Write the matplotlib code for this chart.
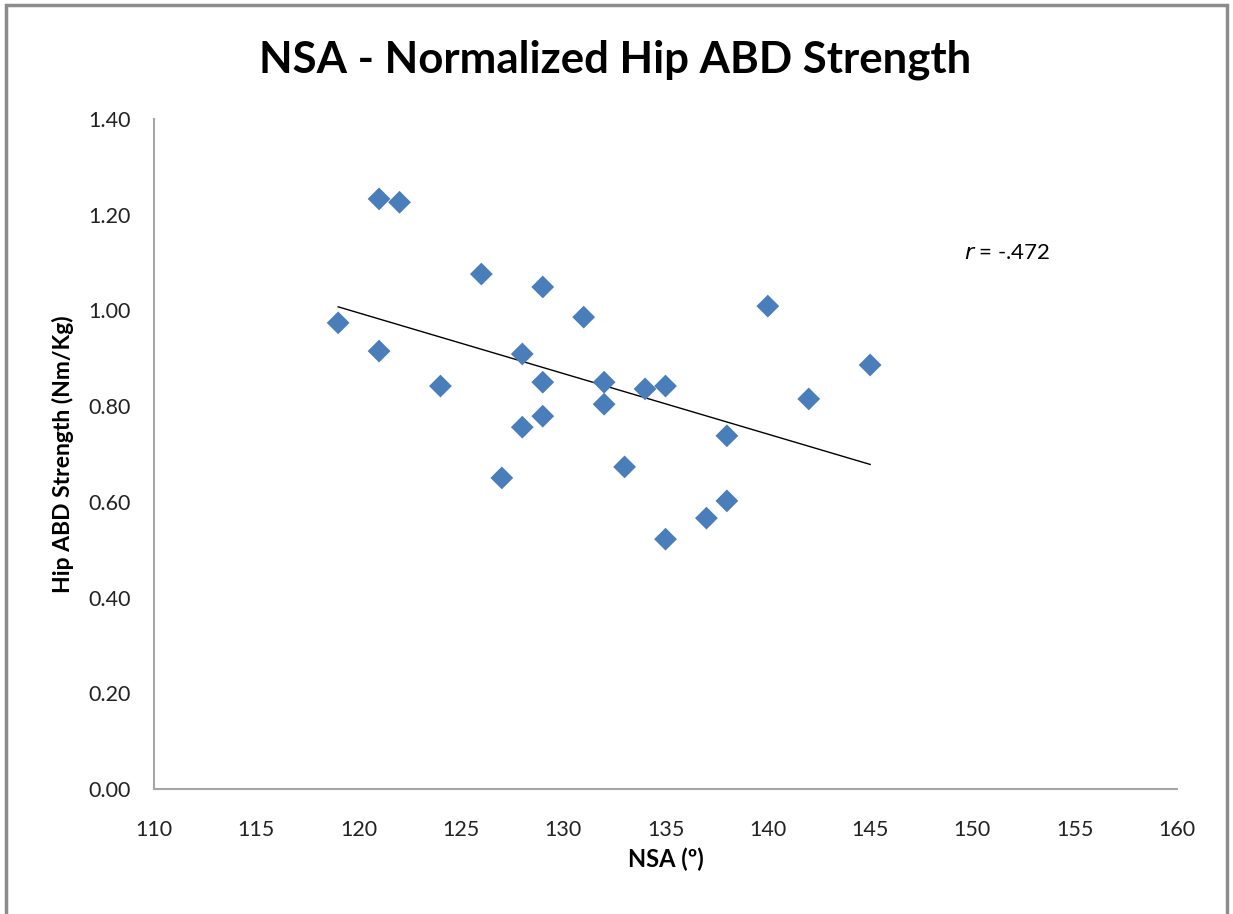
import numpy as np
import matplotlib
matplotlib.use("Agg")
import matplotlib.pyplot as plt
from matplotlib.patches import Rectangle

plt.rcParams["font.family"] = ["Lato", "DejaVu Sans"]

# NSA (degrees) and normalized hip ABD strength (Nm/Kg)
nsa = [121, 122, 119, 121, 124, 126, 127, 128, 128, 129, 129, 129, 131,
       132, 132, 133, 134, 135, 135, 137, 138, 138, 140, 142, 145]
strength = [1.233, 1.226, 0.974, 0.915, 0.842, 1.076, 0.650, 0.909, 0.756,
            1.049, 0.850, 0.779, 0.986, 0.850, 0.804, 0.673, 0.836, 0.842,
            0.522, 0.566, 0.602, 0.738, 1.009, 0.815, 0.886]
x_ticks = [110, 115, 120, 125, 130, 135, 140, 145, 150, 155, 160]
y_ticks = [0.0, 0.2, 0.4, 0.6, 0.8, 1.0, 1.2, 1.4]
r_label = r"$r$ = -.472"

fig = plt.figure(figsize=(12.33, 9.14), dpi=100)
ax = fig.add_axes([0.1249, 0.1368, 0.8297, 0.733])

ax.scatter(nsa, strength, marker="D", s=135, color="#4a7ebb", zorder=3,
           edgecolors="none")

# linear trend line over the data range
slope, intercept = np.polyfit(nsa, strength, 1)
xs = np.array([min(nsa), max(nsa)])
ax.plot(xs, slope * xs + intercept, color="black", lw=1.0, zorder=2)

ax.set_xlim(110, 160)
ax.set_ylim(0, 1.4)
ax.set_xticks(x_ticks)
ax.set_yticks(y_ticks)
ax.set_yticklabels([f"{v:.2f}" for v in y_ticks])
ax.tick_params(length=0, labelsize=15.5, colors="#222222")
ax.tick_params(axis="x", pad=22)
ax.tick_params(axis="y", pad=17)

for side in ["top", "right"]:
    ax.spines[side].set_visible(False)
for side in ["left", "bottom"]:
    ax.spines[side].set_color("#a6a6a6")
    ax.spines[side].set_linewidth(1.5)

ax.set_xlabel("NSA (º)", fontsize=17, fontweight="bold", labelpad=6)
ax.set_ylabel("Hip ABD Strength (Nm/Kg)", fontsize=16.5, fontweight="bold",
              labelpad=10)

fig.text(0.499, 0.935, "NSA - Normalized Hip ABD Strength", ha="center",
         va="center", fontsize=31.5, fontweight="bold")
ax.text(149.6, 1.12, r_label, fontsize=16, ha="left", va="center")

# outer chart frame
fig.patches.append(Rectangle((0.005, -0.01), 0.99, 1.004,
                             transform=fig.transFigure, fill=False,
                             edgecolor="#8c8c8c", lw=2.5))

fig.savefig("out.png", dpi=100)
